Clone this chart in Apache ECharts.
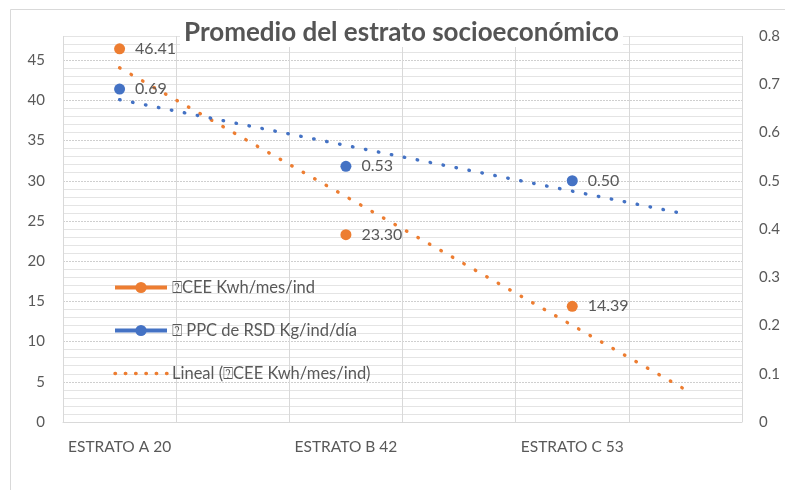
<!DOCTYPE html>
<html>
<head>
<meta charset="utf-8">
<script src="https://cdn.jsdelivr.net/npm/echarts@6/dist/echarts.min.js"></script>
<style>
  html, body { margin: 0; padding: 0; background: #fff; }
  #chart { width: 785px; height: 490px; }
</style>
</head>
<body>
<div id="chart"></div>
<script>
// Categories and measured values
const categories = ['ESTRATO A 20', 'ESTRATO B 42', 'ESTRATO C 53'];
const ceeValues = [46.41, 23.30, 14.39];      // CEE Kwh/mes/ind (left axis)
const ppcValues = [0.69, 0.53, 0.50];         // PPC de RSD Kg/ind/día (right axis)

// Linear trend lines: start / end values at category positions 1 and 3.5
const trendSpan = [1, 3.5];
const ceeTrend = [44.04, 4.02];
const ppcTrend = [0.668, 0.431];

const seriesNames = ['\u2370CEE Kwh/mes/ind', '\u2370 PPC de RSD Kg/ind/día', 'Lineal (\u2370CEE Kwh/mes/ind)'];

const ORANGE = '#ED7D31';
const BLUE = '#4472C4';
const TEXT = '#595959';
const FONT = 'Lato, "Open Sans", sans-serif';

// The horizontal scale runs in quarter-category steps from 0.75 to 3.75
const toX = c => (c - 0.75) * 4;

const ceePoints = ceeValues.map((v, i) => [toX(i + 1), v]);
const ppcPoints = ppcValues.map((v, i) => [toX(i + 1), v]);
const ceeTrendPts = trendSpan.map((c, i) => [toX(c), ceeTrend[i]]);
const ppcTrendPts = trendSpan.map((c, i) => [toX(c), ppcTrend[i]]);

const labelFor = {};
categories.forEach((c, i) => { labelFor[toX(i + 1)] = c; });

const chart = echarts.init(document.getElementById('chart'), null, { renderer: 'canvas' });

const dotLine = color => ({
  color: color, width: 3.4, type: [0.5, 12.7], cap: 'round'
});

const valueLabel = {
  show: true, position: 'right', distance: 10, color: TEXT, fontFamily: FONT, fontSize: 16,
  formatter: p => p.value[1].toFixed(2)
};

chart.setOption({
  backgroundColor: '#fff',
  animation: false,
  textStyle: { fontFamily: FONT },
  graphic: [{
    type: 'rect', z: -10, silent: true,
    shape: { x: 10.5, y: 9.5, width: 800, height: 500 },
    style: { fill: 'none', stroke: '#d9d9d9', lineWidth: 1 }
  }],
  title: {
    text: 'Promedio del estrato socioeconómico',
    left: 180,
    top: 19,
    padding: [0, 4],
    backgroundColor: '#fff',
    z: 1,
    textStyle: { fontFamily: FONT, fontSize: 26, fontWeight: 'bold', color: '#555555', lineHeight: 28 }
  },
  grid: { left: 63, right: 43, top: 36, bottom: 68, containLabel: false },
  legend: {
    orient: 'vertical',
    left: 113,
    top: 279,
    padding: 0,
    itemWidth: 52,
    itemHeight: 14,
    itemGap: 26,
    textStyle: { fontFamily: FONT, fontSize: 16.5, color: TEXT, lineHeight: 14 },
    data: [
      { name: seriesNames[0], lineStyle: { opacity: 1, width: 4, color: ORANGE } },
      { name: seriesNames[1], lineStyle: { opacity: 1, width: 4, color: BLUE } },
      { name: seriesNames[2], itemStyle: { opacity: 0 },
        lineStyle: { color: ORANGE, width: 3.4, type: [0.5, 9.8], cap: 'round' } }
    ]
  },
  xAxis: [{
    type: 'value', min: 0, max: 12, interval: 2,
    axisLine: { show: true, lineStyle: { color: '#d9d9d9' } },
    axisTick: { show: false },
    axisLabel: { show: false },
    splitLine: { show: true, lineStyle: { color: '#d9d9d9', width: 1 } }
  }, {
    type: 'value', min: 0, max: 12, interval: 1, position: 'bottom',
    axisLine: { show: false }, axisTick: { show: false },
    splitLine: { show: false },
    axisLabel: {
      margin: 17, color: TEXT, fontFamily: FONT, fontSize: 15.5,
      formatter: v => labelFor[v] || ''
    }
  }],
  yAxis: [{
    type: 'value', min: 0, max: 48, interval: 5, position: 'left',
    axisLine: { show: false }, axisTick: { show: false },
    axisLabel: { margin: 18, color: TEXT, fontFamily: FONT, fontSize: 15, showMaxLabel: false },
    splitLine: { show: true, lineStyle: { color: '#cfcfcf', type: [2, 1], width: 1 } }
  }, {
    type: 'value', min: 0, max: 0.8, interval: 0.1, position: 'right',
    axisLine: { show: false }, axisTick: { show: false },
    axisLabel: { margin: 17, color: TEXT, fontFamily: FONT, fontSize: 15 },
    splitLine: { show: false }
  }, {
    // fine horizontal rules every unit on the left scale
    type: 'value', min: 0, max: 48, interval: 1, position: 'left', show: true,
    axisLine: { show: false }, axisTick: { show: false }, axisLabel: { show: false },
    splitLine: { show: true, lineStyle: { width: 1, color: ['rgba(0,0,0,0)', '#e4e4e4', '#e4e4e4', '#e4e4e4', '#e4e4e4'] } }
  }],
  series: [{
    name: seriesNames[0], type: 'line', xAxisIndex: 0, yAxisIndex: 0,
    data: ceePoints, symbol: 'circle', symbolSize: 11, z: 5,
    itemStyle: { color: ORANGE },
    lineStyle: { opacity: 0, color: ORANGE },
    label: valueLabel
  }, {
    name: seriesNames[1], type: 'line', xAxisIndex: 0, yAxisIndex: 1,
    data: ppcPoints, symbol: 'circle', symbolSize: 11, z: 5,
    itemStyle: { color: BLUE },
    lineStyle: { opacity: 0, color: BLUE },
    label: valueLabel
  }, {
    name: seriesNames[2], type: 'line', xAxisIndex: 0, yAxisIndex: 0,
    data: ceeTrendPts, showSymbol: false, symbol: 'none', z: 3,
    itemStyle: { color: ORANGE },
    lineStyle: dotLine(ORANGE)
  }, {
    name: 'Lineal PPC', type: 'line', xAxisIndex: 0, yAxisIndex: 1,
    data: ppcTrendPts, showSymbol: false, symbol: 'none', z: 3,
    itemStyle: { color: BLUE },
    lineStyle: dotLine(BLUE)
  }]
});
</script>
</body>
</html>
